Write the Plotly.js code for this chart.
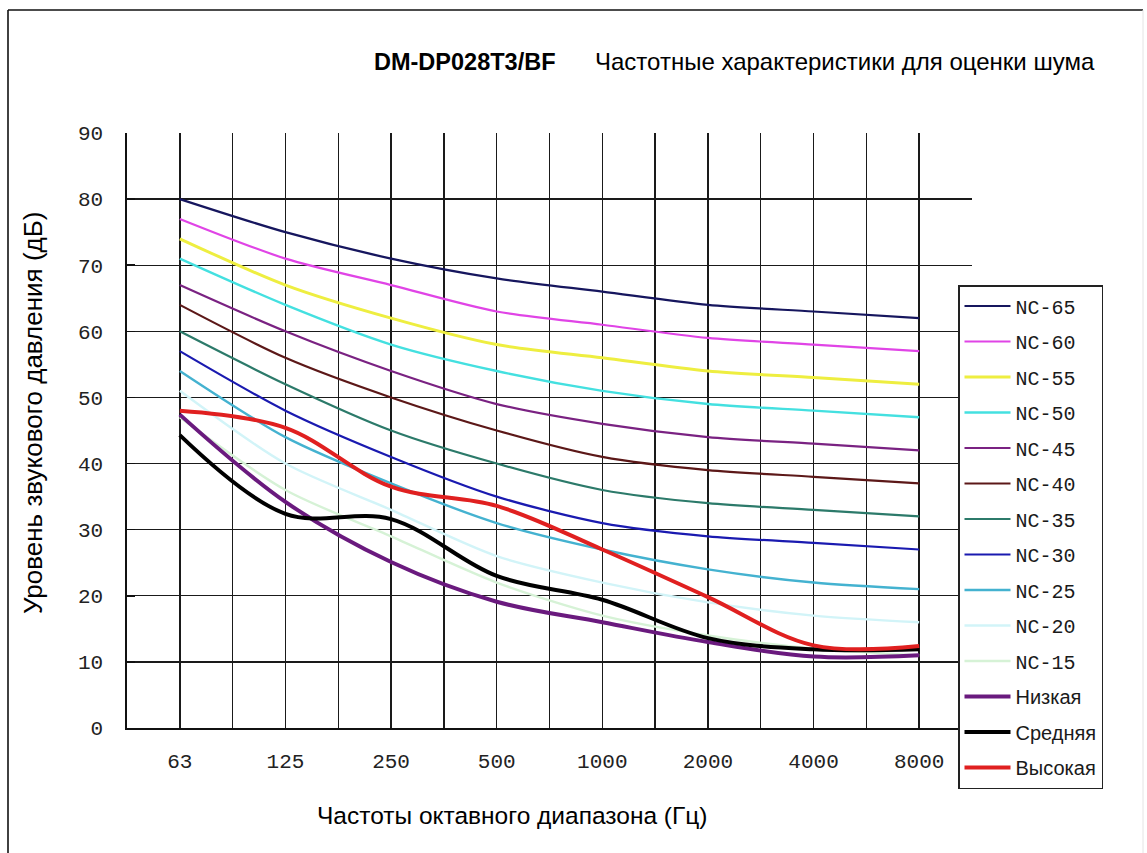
<!DOCTYPE html>
<html>
<head>
<meta charset="utf-8">
<script src="https://cdn.plot.ly/plotly-3.0.1.min.js"></script>
<style>
  html, body { margin: 0; padding: 0; background: #ffffff; }
  #chart { width: 1147px; height: 853px; }
</style>
</head>
<body>
<div id="chart"></div>
<script>
// ---- data ----
const freqs = ['63', '125', '250', '500', '1000', '2000', '4000', '8000'];
const yTicks = [0, 10, 20, 30, 40, 50, 60, 70, 80, 90];

const nc65 = [80, 75, 71, 68, 66, 64, 63, 62];
const nc60 = [77, 71, 67, 63, 61, 59, 58, 57];
const nc55 = [74, 67, 62, 58, 56, 54, 53, 52];
const nc50 = [71, 64, 58, 54, 51, 49, 48, 47];
const nc45 = [67, 60, 54, 49, 46, 44, 43, 42];
const nc40 = [64, 56, 50, 45, 41, 39, 38, 37];
const nc35 = [60, 52, 45, 40, 36, 34, 33, 32];
const nc30 = [57, 48, 41, 35, 31, 29, 28, 27];
const nc25 = [54, 44, 37, 31, 27, 24, 22, 21];
const nc20 = [51, 40, 33, 26, 22, 19, 17, 16];
const nc15 = [47, 36, 29, 22, 17, 14, 12, 11];

const lowMode  = [47.4, 34.2, 25.1, 19.1, 16.0, 13.0, 10.8, 11.0];
const midMode  = [44.3, 32.4, 31.6, 23.0, 19.4, 13.6, 11.9, 11.9];
const highMode = [48.0, 45.4, 36.5, 33.6, 27.0, 19.8, 12.5, 12.4];

const ncNames = ['NC-65', 'NC-60', 'NC-55', 'NC-50', 'NC-45', 'NC-40', 'NC-35', 'NC-30', 'NC-25', 'NC-20', 'NC-15'];
const modeNames = ['Низкая', 'Средняя', 'Высокая'];

// ---- styles ----
const ncSeries = [nc65, nc60, nc55, nc50, nc45, nc40, nc35, nc30, nc25, nc20, nc15];
const ncColors = ['#16165e', '#e044e6', '#eeee40', '#44e0e0', '#7a2282', '#5c1818', '#2c7a6a', '#1a1ab0', '#44b2d0', '#d2f4f8', '#d6f2d6'];
const ncWidths = [2.2, 2.2, 3, 2.4, 2.2, 2.2, 2.2, 2.2, 2.4, 2.4, 2.4];
const modeSeries = [lowMode, midMode, highMode];
const modeColors = ['#6a1a7e', '#000000', '#e02020'];

const xIdx = freqs.map((f, i) => i);
const MONO = '"Liberation Mono", "DejaVu Sans Mono", monospace';
const SANS = '"Liberation Sans", Arial, sans-serif';

const traces = [];
ncSeries.forEach((s, k) => {
  traces.push({
    type: 'scatter', mode: 'lines', x: xIdx, y: s, name: ncNames[k],
    legendgroup: 'g' + k,
    line: { color: ncColors[k], width: ncWidths[k], shape: 'spline', smoothing: 0.8 },
    hoverinfo: 'x+y+name'
  });
});
modeSeries.forEach((s, k) => {
  traces.push({
    type: 'scatter', mode: 'lines', x: xIdx, y: s,
    name: '<span style="font-family:Liberation Sans, Arial, sans-serif">' + modeNames[k] + '</span>',
    legendgroup: 'm' + k,
    line: { color: modeColors[k], width: 4, shape: 'spline', smoothing: 1 },
    hoverinfo: 'x+y'
  });
});
// invisible helper trace on yaxis2 for horizontal grid
traces.push({ type: 'scatter', mode: 'lines', x: [0], y: [0], yaxis: 'y2', showlegend: false, hoverinfo: 'skip', line: { width: 0 } });

const halfVals = [];
for (let i = 0; i < freqs.length - 1; i++) halfVals.push(i + 0.5);

const L = 127, R = 1147 - 972, T = 133, B = 853 - 728;
const pw = 1147 - L - R, ph = 853 - T - B;
const px = (x) => (x - L) / pw;
const py = (y) => (853 - B - y) / ph;

const layout = {
  width: 1147, height: 853,
  margin: { l: L, r: R, t: T, b: B, pad: 0 },
  paper_bgcolor: '#ffffff', plot_bgcolor: '#ffffff',
  showlegend: true,
  xaxis: {
    range: [-0.5, freqs.length - 0.5],
    tickmode: 'array', tickvals: xIdx, ticktext: freqs,
    showgrid: true, gridcolor: '#1a1a1a', gridwidth: 1.4,
    minor: { tickmode: 'array', tickvals: halfVals, showgrid: true, gridcolor: '#1a1a1a', gridwidth: 1.4, ticks: '' },
    zeroline: false, showline: true, linecolor: '#111111', linewidth: 1.6,
    ticks: '', ticklabelstandoff: 13,
    tickfont: { family: MONO, size: 21, color: '#222222' },
    fixedrange: true
  },
  yaxis: {
    range: [0, 90],
    tickmode: 'array', tickvals: yTicks,
    showgrid: false, zeroline: false,
    showline: true, linecolor: '#111111', linewidth: 1.6,
    ticks: 'inside', ticklen: 8, tickwidth: 1.6, tickcolor: '#111111',
    ticklabelstandoff: 18,
    tickfont: { family: MONO, size: 21, color: '#222222' },
    fixedrange: true
  },
  yaxis2: {
    overlaying: 'y', range: [0, 90],
    tickmode: 'array', tickvals: yTicks.filter(v => v > 0 && v < 90),
    showgrid: true, gridcolor: '#1a1a1a', gridwidth: 1.4,
    showticklabels: false, ticks: '', zeroline: false, showline: false,
    fixedrange: true
  },
  legend: {
    x: px(958), y: py(285), xanchor: 'left', yanchor: 'top',
    bgcolor: '#ffffff', bordercolor: '#222222', borderwidth: 1.5,
    font: { family: MONO, size: 20, color: '#1a1a1a' },
    tracegroupgap: 6.5, itemwidth: 46
  },
  annotations: [
    { xref: 'paper', yref: 'paper', x: px(372), y: py(62), xanchor: 'left', yanchor: 'middle',
      text: '<b>DM-DP028T3/BF</b>', showarrow: false,
      font: { family: SANS, size: 23.5, color: '#000000' } },
    { xref: 'paper', yref: 'paper', x: px(593), y: py(62), xanchor: 'left', yanchor: 'middle',
      text: 'Частотные характеристики для оценки шума', showarrow: false,
      font: { family: SANS, size: 24, color: '#000000' } },
    { xref: 'paper', yref: 'paper', x: px(512), y: py(815), xanchor: 'center', yanchor: 'middle',
      text: 'Частоты октавного диапазона (Гц)', showarrow: false,
      font: { family: SANS, size: 24.5, color: '#000000' } },
    { xref: 'paper', yref: 'paper', x: px(33), y: py(413), xanchor: 'center', yanchor: 'middle',
      text: 'Уровень звукового давления (дБ)', showarrow: false, textangle: -90,
      font: { family: SANS, size: 26, color: '#000000' } }
  ],
  shapes: [
    { type: 'line', xref: 'paper', yref: 'paper', x0: px(8), x1: px(1143), y0: py(10), y1: py(10),
      line: { color: '#111111', width: 1.6 } },
    { type: 'line', xref: 'paper', yref: 'paper', x0: px(8), x1: px(8), y0: py(10), y1: py(853),
      line: { color: '#111111', width: 1.6 } },
    { type: 'line', xref: 'paper', yref: 'paper', x0: px(1143), x1: px(1143), y0: py(10), y1: py(853),
      line: { color: '#e4e4e4', width: 1 } }
  ]
};

Plotly.newPlot('chart', traces, layout, { displayModeBar: false, staticPlot: true });
</script>
</body>
</html>
